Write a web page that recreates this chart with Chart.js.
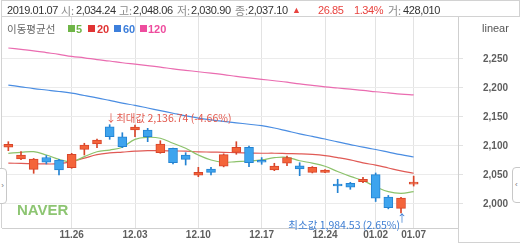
<!DOCTYPE html>
<html>
<head>
<meta charset="utf-8">
<script src="https://cdn.jsdelivr.net/npm/chart.js@4.4.0/dist/chart.umd.min.js"></script>
<style>
  body { margin: 0; background: #fff; font-family: "Liberation Sans", "Noto Sans CJK KR", sans-serif; }
  #wrap { position: relative; width: 520px; height: 245px; overflow: hidden; }
  #wrap canvas { position: absolute; left: 0; top: 0; }
  .t { position: absolute; white-space: nowrap; font-size: 11px; line-height: 12px; letter-spacing: -0.4px; color: #333; }
  .g { color: #8a8a8a; font-family: "Noto Sans CJK KR", sans-serif; letter-spacing: 0; }
  .r { color: #e8433f; }
  .box { position: absolute; box-sizing: border-box; }
  .sq { position: absolute; width: 7px; height: 7px; top: 25px; }
  .lg { position: absolute; top: 23px; font-size: 11px; font-weight: bold; line-height: 12px; }
</style>
</head>
<body>
<div id="wrap">
  <canvas id="chartCandle" width="520" height="245"></canvas>

  <!-- header / frame -->
  <div class="box" style="left:1px;top:0;width:519px;height:17px;border:1px solid #d2d2d2;"></div>
  <div class="box" style="left:1px;top:16px;width:1px;height:212px;background:#d2d2d2;"></div>
  <div class="box" style="left:458px;top:228px;width:1px;height:15px;background:#d2d2d2;"></div>
  <div class="box" style="left:458px;top:242px;width:62px;height:1px;background:#d2d2d2;"></div>

  <span class="t" style="left:7px;top:4px;">2019.01.07</span>
  <span class="t g" style="left:61px;top:4px;">시:</span>
  <span class="t" style="left:76px;top:4px;">2,034.24</span>
  <span class="t g" style="left:119px;top:4px;">고:</span>
  <span class="t" style="left:133px;top:4px;">2,048.06</span>
  <span class="t g" style="left:177px;top:4px;">저:</span>
  <span class="t" style="left:191px;top:4px;">2,030.90</span>
  <span class="t g" style="left:235px;top:4px;">종:</span>
  <span class="t" style="left:248px;top:4px;">2,037.10</span>
  <span class="t r" style="left:292px;top:4px;font-size:9px;">▲</span>
  <span class="t r" style="left:318px;top:4px;">26.85</span>
  <span class="t r" style="left:354px;top:4px;">1.34%</span>
  <span class="t g" style="left:388px;top:4px;">거:</span>
  <span class="t" style="left:403px;top:4px;">428,010</span>

  <!-- legend -->
  <span class="t g" style="left:7px;top:23px;font-size:10.5px;color:#666;letter-spacing:0;">이동평균선</span>
  <div class="sq" style="left:68px;background:#6fb547;"></div>
  <span class="lg" style="left:76px;color:#6fb547;">5</span>
  <div class="sq" style="left:88px;background:#e03434;"></div>
  <span class="lg" style="left:97px;color:#e03434;">20</span>
  <div class="sq" style="left:114px;background:#3d7fdb;"></div>
  <span class="lg" style="left:123px;color:#3d7fdb;">60</span>
  <div class="sq" style="left:140px;background:#ee4d9e;"></div>
  <span class="lg" style="left:148px;color:#ee4d9e;">120</span>

  <span class="t" style="left:482px;top:22px;color:#555;letter-spacing:0;">linear</span>

  <div class="box" style="left:17px;top:201px;font:bold 15px 'Liberation Sans',sans-serif;color:#8dc572;">NAVER</div>

  <!-- side tabs -->
  <div class="box" style="left:-4px;top:168px;width:11px;height:36px;border:1px solid #c8c8c8;border-radius:4px;background:#fff;font-size:8px;color:#777;line-height:34px;text-align:right;padding-right:2px;">›</div>
  <div class="box" style="left:512px;top:167px;width:12px;height:36px;border:1px solid #c8c8c8;border-radius:4px;background:#fff;font-size:8px;color:#777;line-height:34px;padding-left:2px;">‹</div>
</div>

<script>
  // 날짜 (마지막 3칸은 오른쪽 여백)
  var labels = ['11.19', '11.20', '11.21', '11.22', '11.23', '11.26', '11.27', '11.28', '11.29', '11.30',
    '12.03', '12.04', '12.05', '12.06', '12.07', '12.10', '12.11', '12.12', '12.13', '12.14',
    '12.17', '12.18', '12.19', '12.20', '12.21', '12.24', '12.26', '12.27', '12.28',
    '01.02', '01.03', '01.04', '01.07', '', '', ''];
  var tickDates = ['11.26', '12.03', '12.10', '12.17', '12.24', '01.02', '01.07'];
  var yTicks = [2000, 2050, 2100, 2150, 2200, 2250];

  var openP = [2097.8, 2077.6, 2059.8, 2080.2, 2075.9, 2062.6, 2094.3, 2103.4, 2133.0, 2115.9,
    2127.5, 2127.6, 2088.4, 2096.0, 2084.5, 2049.5, 2060.3, 2065.0, 2089.1, 2097.8,
    2075.3, 2058.6, 2070.2, 2066.0, 2054.6, 2054.6, 2034.5, 2035.7, 2038.4,
    2050.55, 2011.81, 1992.40, 2034.24];
  var highP = [2107.4, 2090.2, 2078.5, 2083.6, 2077.0, 2087.4, 2104.7, 2112.0, 2136.74, 2122.9,
    2136.2, 2130.5, 2109.1, 2096.5, 2088.5, 2063.2, 2063.2, 2086.5, 2107.4, 2100.0,
    2080.0, 2070.2, 2082.8, 2071.2, 2064.5, 2059.5, 2042.6, 2037.4, 2046.0,
    2053.45, 2014.72, 2011.56, 2048.06];
  var lowP = [2091.9, 2076.5, 2052.9, 2069.0, 2050.0, 2061.5, 2084.5, 2097.0, 2111.5, 2097.1,
    2116.0, 2107.4, 2087.4, 2069.0, 2067.2, 2047.1, 2050.0, 2064.0, 2085.7, 2064.3,
    2068.4, 2057.4, 2066.0, 2048.8, 2053.5, 2054.0, 2019.5, 2025.3, 2036.7,
    2004.27, 1991.65, 1984.53, 2030.90];
  var closeP = [2102.9, 2084.5, 2077.6, 2072.2, 2058.6, 2085.7, 2101.7, 2110.3, 2116.0, 2098.8,
    2132.5, 2116.0, 2103.4, 2071.2, 2077.0, 2054.6, 2054.6, 2085.0, 2097.8, 2071.2,
    2071.9, 2065.5, 2080.2, 2060.3, 2063.2, 2058.6, 2031.0, 2028.8, 2042.6,
    2010.00, 1993.70, 2010.25, 2037.10];

  // 이동평균선
  var ma5 = [2087.4, 2089.0, 2090.2, 2084.5, 2077.0, 2073.0, 2081.6, 2090.0, 2093.0, 2097.8,
    2111.5, 2115.0, 2113.3, 2104.7, 2096.0, 2084.5, 2075.9, 2071.9, 2073.0, 2074.1,
    2075.9, 2079.8, 2080.5, 2074.5, 2070.5, 2065.0, 2056.0, 2047.5, 2040.2,
    2029.8, 2021.2, 2018.4, 2021.2];
  var ma20 = [2070.5, 2070.0, 2069.5, 2069.0, 2069.5, 2073.0, 2079.0, 2085.0, 2088.0, 2089.5,
    2091.0, 2092.0, 2092.0, 2091.5, 2091.0, 2090.0, 2089.5, 2089.0, 2088.5, 2088.0,
    2087.5, 2087.5, 2087.0, 2086.5, 2085.5, 2083.5, 2080.0, 2076.0, 2071.0,
    2067.0, 2062.0, 2057.0, 2053.0];
  var ma60 = [2205.0, 2202.0, 2199.0, 2196.5, 2194.0, 2191.0, 2187.0, 2183.0, 2178.5, 2174.0,
    2170.0, 2165.5, 2161.0, 2156.5, 2152.0, 2148.0, 2145.0, 2142.5, 2140.0, 2137.5,
    2135.0, 2131.0, 2126.0, 2121.0, 2116.5, 2112.0, 2107.0, 2102.5, 2098.0,
    2094.0, 2089.5, 2085.0, 2081.0];
  var ma120 = [2269.0, 2266.5, 2264.0, 2261.0, 2258.0, 2254.5, 2252.0, 2249.0, 2246.5, 2243.5,
    2241.0, 2238.5, 2236.0, 2233.0, 2230.5, 2228.0, 2225.5, 2223.0, 2220.0, 2217.5,
    2215.0, 2212.5, 2210.0, 2207.0, 2204.5, 2202.0, 2200.0, 2198.0, 2196.0,
    2193.5, 2191.5, 2189.5, 2188.0];

  var upFill = '#f4643a', upLine = '#d8452a';
  var downFill = '#3ea4ee', downLine = '#2483d2';

  var isUp = closeP.map(function (c, i) { return c >= openP[i]; });
  var bodyData = openP.map(function (o, i) { return [o, closeP[i]]; });
  var wickData = lowP.map(function (l, i) { return [l, highP[i]]; });

  function fmt(v) {
    return v.toLocaleString('en-US', { minimumFractionDigits: 2, maximumFractionDigits: 2 });
  }

  // 최대값 / 최소값 표시
  var markPlugin = {
    id: 'marks',
    afterDatasetsDraw: function (chart) {
      var c = chart.ctx, xs = chart.scales.x, ys = chart.scales.y;
      var last = closeP[closeP.length - 1];
      var hi = highP.indexOf(Math.max.apply(null, highP));
      var lo = lowP.indexOf(Math.min.apply(null, lowP));
      c.save();
      c.font = '10.5px "Noto Sans CJK KR", sans-serif';
      c.textBaseline = 'middle';

      var x = xs.getPixelForValue(hi), y = ys.getPixelForValue(highP[hi]);
      c.fillStyle = '#e2594e';
      c.textAlign = 'left';
      c.fillText('↓최대값 ' + fmt(highP[hi]) + ' (' + ((last - highP[hi]) / highP[hi] * 100).toFixed(2) + '%)', x - 4, y - 7);

      x = xs.getPixelForValue(lo); y = ys.getPixelForValue(lowP[lo]);
      c.fillStyle = '#3f7fd3';
      c.textAlign = 'center';
      c.fillText('↑', x + 1, y + 5);
      c.textAlign = 'right';
      c.fillText('최소값 ' + fmt(lowP[lo]) + ' (' + ((last - lowP[lo]) / lowP[lo] * 100).toFixed(2) + '%)', x - 1, y + 12);
      c.restore();
    }
  };

  function lineSet(data, color) {
    return {
      type: 'line', data: data, borderColor: color, borderWidth: 1.2,
      pointRadius: 0, tension: 0.4, fill: false, order: 3
    };
  }

  var ctxCandle = document.getElementById('chartCandle').getContext('2d');
  var configCandle = {
    type: 'bar',
    data: {
      labels: labels,
      datasets: [
        {
          data: bodyData, order: 1, grouped: false, barThickness: 9, minBarLength: 2,
          backgroundColor: isUp.map(function (u) { return u ? upFill : downFill; }),
          borderColor: isUp.map(function (u) { return u ? upLine : downLine; }),
          borderWidth: 1, borderSkipped: false
        },
        {
          data: wickData, order: 2, grouped: false, barThickness: 1,
          backgroundColor: isUp.map(function (u) { return u ? upLine : downLine; }),
          borderWidth: 0
        },
        lineSet(ma5, '#8cc26b'),
        lineSet(ma20, '#e05a55'),
        lineSet(ma60, '#4a8de2'),
        lineSet(ma120, '#ea6cb0')
      ]
    },
    options: {
      responsive: false,
      animation: false,
      layout: { padding: { left: 2, top: 17, right: 0, bottom: 0 } },
      plugins: { legend: { display: false }, tooltip: { enabled: false } },
      scales: {
        x: {
          offset: true,
          grid: {
            offset: false, drawTicks: false,
            color: function (ctx) { return tickDates.indexOf(labels[ctx.index]) >= 0 ? '#e3e3e3' : 'rgba(0,0,0,0)'; }
          },
          border: { color: '#cfcfcf' },
          ticks: {
            autoSkip: false, maxRotation: 0, padding: 1, color: '#5e5e5e',
            font: { family: 'Liberation Sans', size: 10, weight: 'bold' },
            callback: function (v, i) { return tickDates.indexOf(labels[i]) >= 0 ? labels[i] : ''; }
          },
          afterFit: function (s) { s.height = 17; }
        },
        y: {
          position: 'right',
          min: 1958.6,
          max: 2322.4,
          afterBuildTicks: function (s) { s.ticks = yTicks.map(function (v) { return { value: v }; }); },
          afterFit: function (s) { s.width = 62; },
          // tick padding would also pad the plot top/bottom, so the label gap comes from a long, mostly-hidden tick
          grid: { color: '#ebebeb', tickLength: 25, tickColor: '#e2e2e2', tickBorderDash: [4, 40] },
          border: { color: '#cfcfcf' },
          ticks: {
            padding: 0, color: '#5e5e5e',
            font: { family: 'Liberation Sans', size: 10, weight: 'bold' },
            callback: function (v) { return v.toLocaleString('en-US'); }
          }
        }
      }
    },
    plugins: [markPlugin]
  };
  var chartCandle = new Chart(ctxCandle, configCandle);
</script>
</body>
</html>
